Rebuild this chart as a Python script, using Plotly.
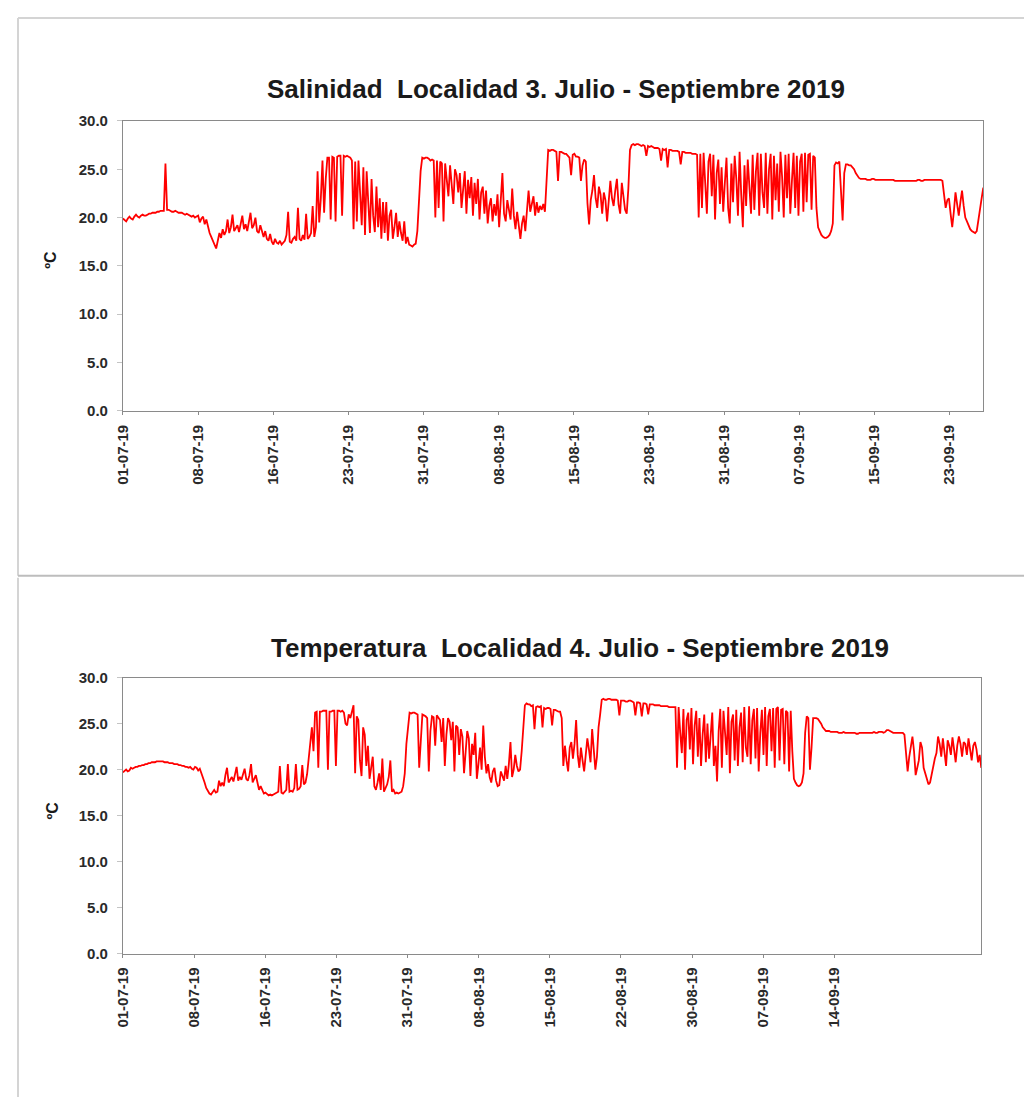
import plotly.graph_objects as go

W, H = 1032, 1097
# measured placement of the page in the screenshot: origin ~16 px, slight downscale
ORIGIN = 16.0
SX, SY = 0.992, 0.985
FONT = "Liberation Sans, Arial, sans-serif"

# ---------------- data ----------------
TITLE_1 = "Salinidad\u00a0 Localidad 3. Julio - Septiembre 2019"
TITLE_2 = "Temperatura\u00a0 Localidad 4. Julio - Septiembre 2019"
Y_TITLE = "ºC"

# category-axis labels, one label every TICK_EVERY samples (4-hourly samples)
labels_1 = ["01-07-19", "08-07-19", "16-07-19", "23-07-19", "31-07-19", "08-08-19",
            "15-08-19", "23-08-19", "31-08-19", "07-09-19", "15-09-19", "23-09-19"]
labels_2 = ["01-07-19", "08-07-19", "16-07-19", "23-07-19", "31-07-19", "08-08-19",
            "15-08-19", "22-08-19", "30-08-19", "07-09-19", "14-09-19"]
TICK_EVERY_1 = 45.94
TICK_EVERY_2 = 44.43

y_ticks = [0, 5, 10, 15, 20, 25, 30]

# series 1: Salinidad Localidad 3
salinidad_l3 = [
    # 01-07 .. 07-07
    19.9, 19.7, 19.6, 19.9, 20.1, 19.9, 19.8, 20.1, 20.3, 20.1, 20.0, 20.2, 20.3, 20.2, 20.2,
    20.3, 20.4, 20.4, 20.5, 20.5, 20.5, 20.6, 20.6, 20.7, 20.7,
    20.7, 25.6, 20.8,
    20.8, 20.7, 20.6, 20.6, 20.7, 20.6, 20.5, 20.5, 20.5, 20.4, 20.3, 20.4, 20.3, 20.2, 20.1,
    20.2, 20.0, 20.1, 20.2, 19.5, 19.9, 20.1, 19.3,
    19.8, 19.0, 18.4, 18.0, 17.6, 17.2, 16.8,
    # 09-07 .. 16-07
    17.6, 18.4, 17.9, 18.8, 18.2, 18.6, 19.8, 18.4, 19.0, 20.3, 18.6, 18.9, 19.2, 18.5, 19.4,
    20.2, 18.8, 19.3, 18.6, 19.5, 20.5, 18.9, 19.2, 20.0, 18.6, 18.4, 19.2, 18.6,
    18.0, 18.6, 17.8, 17.6, 18.3, 17.5, 17.2, 17.8, 17.4, 17.3, 17.6, 17.2,
    17.4, 17.6, 18.2, 20.6, 17.5, 17.4, 17.8, 18.0, 17.6, 21.0, 17.8, 17.6, 18.2, 17.7, 20.4,
    17.8, 18.0, 18.4, 21.2, 18.0,
    # 20-07 .. 31-07
    19.0, 24.8, 19.5, 22.0, 25.9, 20.5, 24.0, 26.2,
    26.2, 19.8, 26.3, 26.2, 19.6, 26.3, 26.4, 26.4, 20.2, 26.4, 26.3, 26.4, 26.3, 26.2, 25.9,
    18.8, 25.8, 19.6, 25.9, 22.0, 19.2, 25.2, 18.2, 24.8, 21.0, 18.4, 24.0, 20.2, 18.5, 23.2,
    19.0, 22.0, 17.8, 21.6, 18.4,
    21.6, 17.6, 20.2, 20.8, 17.8, 19.0, 20.5, 18.0, 19.6, 18.4, 17.6, 19.6, 17.3, 18.0, 17.2,
    17.1, 17.0, 17.2, 17.3, 18.6,
    22.0, 24.8, 26.2,
    26.1, 26.2, 26.2, 26.1, 25.9, 26.0, 25.9, 20.0,
    # 01-08 .. 14-08
    25.9, 21.0, 25.8, 25.6, 19.6, 25.6, 24.2, 22.2, 25.4, 23.0, 21.4, 25.0, 24.4, 22.6, 24.6,
    21.0, 23.4, 24.8, 20.4, 23.9, 22.0, 24.2, 20.2, 23.6, 21.4, 24.0, 19.8, 22.6, 23.2, 20.4,
    22.8, 19.4,
    21.2, 22.0, 19.6, 21.4, 20.2, 22.4, 19.0, 21.8, 24.6, 20.4, 19.6, 21.8, 20.8, 19.8, 23.0,
    20.2, 18.8, 20.6, 19.2, 17.8, 19.4, 20.2, 18.6, 21.0, 22.8, 20.6, 21.4, 22.2, 20.2, 21.6,
    20.5, 21.2, 20.8, 21.4, 20.6,
    24.0, 27.0,
    # 14-08 .. 22-08
    26.9, 27.0, 27.0, 26.9, 26.8, 23.8, 26.8, 26.8, 26.7, 26.6, 26.6, 26.4, 26.2, 24.4, 26.5,
    26.6, 26.3, 26.3, 26.2, 23.8, 25.4, 26.0, 25.8,
    21.5, 19.3, 21.8, 22.8, 24.4, 22.0, 21.0, 23.2, 22.4, 20.4, 22.6, 21.8, 19.6, 21.6, 23.8,
    22.0, 21.2, 22.8, 24.0, 21.4, 20.4, 23.6, 22.2, 20.8,
    20.4, 23.0, 27.0, 27.5,
    # 22-08 .. 29-08
    27.6, 27.5, 27.6, 27.6, 27.5, 27.4, 27.5, 27.4, 26.4, 27.4, 27.3, 27.4, 27.3, 27.2, 27.2,
    27.2, 27.1, 25.9, 27.1, 27.0, 27.1, 25.2, 27.0, 27.0, 26.9, 26.9, 26.9, 26.9, 26.8, 25.5,
    26.8, 26.8, 26.7, 26.7, 26.7, 26.7, 26.6, 26.6, 26.6, 26.5,
    # 29-08 .. 10-09
    20.0, 26.6, 21.0, 26.7, 23.5, 20.4, 25.8, 26.6, 22.2, 26.5,
    19.8, 24.6, 26.0, 21.4, 25.2, 20.6, 23.6, 26.2, 21.0, 19.4,
    25.6, 21.6, 26.4, 24.0, 20.2, 26.8, 22.4, 19.0, 25.4, 21.2,
    26.0, 23.0, 20.4, 26.5, 20.8, 24.8, 26.7, 20.2, 26.6, 22.6,
    21.0, 26.7, 20.4, 25.0, 26.6, 19.8, 26.4, 21.8, 25.6, 20.6,
    26.8, 24.2, 20.0, 26.5, 22.0, 26.6, 20.4, 23.8, 26.7, 21.0,
    26.4, 20.2, 25.8, 26.6, 20.6, 26.7, 21.6, 26.5, 26.6, 20.8,
    26.4, 26.2,
    21.0, 19.0, 18.5, 18.2, 18.0, 17.9, 17.9, 18.0, 18.2, 18.6, 19.4,
    25.4, 25.7, 25.6, 25.8, 22.0, 19.7, 24.6, 25.5,
    25.5, 25.4, 25.4, 25.2, 25.0, 24.6, 24.3, 24.1,
    # 13-09 .. 22-09
    24.0, 24.0, 24.0, 24.0, 23.9, 23.9, 23.9, 24.0, 24.0, 23.9,
    23.9, 23.9, 23.9, 23.9, 23.9, 23.9, 23.9, 23.9, 23.9, 23.9,
    23.9, 23.8, 23.8, 23.8, 23.8, 23.8, 23.8, 23.8, 23.8, 23.8,
    23.8, 23.8, 23.8, 23.8, 23.8, 23.9, 23.9, 23.8, 23.8, 23.9,
    23.9, 23.9, 23.9, 23.9, 23.9, 23.9, 23.9, 23.9, 23.9, 23.9,
    23.8,
    # 22-09 .. 26-09
    22.4, 21.0, 21.8, 22.0, 20.4, 19.0, 20.6, 22.6, 21.4, 20.2, 21.6, 22.8, 21.2, 20.0, 19.6,
    19.2, 18.8, 18.6, 18.5, 18.4, 18.6, 19.6, 20.8, 22.0, 23.1,
]

# series 2: Temperatura Localidad 4
temperatura_l4 = [
    19.7, 19.9, 20.0, 19.8, 19.9, 20.2, 20.1, 20.2, 20.3, 20.3,
    20.4, 20.4, 20.5, 20.5, 20.6, 20.6, 20.7, 20.7, 20.8, 20.8,
    20.8, 20.9, 20.9, 20.9, 20.9, 20.9, 20.8, 20.8, 20.8, 20.7,
    20.7, 20.7, 20.6, 20.6, 20.6, 20.5, 20.5, 20.4, 20.4, 20.3,
    20.3, 20.2, 20.3, 20.1, 20.0, 20.3, 20.2, 19.9, 20.1, 19.6,
    19.2, 18.6, 18.0, 17.6, 17.4, 17.3, 17.6, 17.8, 17.5,
    17.6, 18.8, 18.2, 18.6, 18.2, 19.4, 20.2, 18.6, 18.9, 19.2, 18.7, 19.6, 20.3, 18.8, 19.2,
    18.9, 19.5, 20.1, 19.0, 18.8, 19.4, 20.6, 18.6, 19.0,
    19.4, 18.6, 17.8, 18.2, 17.8, 17.4, 17.5, 17.3, 17.2, 17.3, 17.2,
    17.3, 17.4, 17.5, 17.6, 20.4, 17.5, 17.4, 17.6, 17.8, 20.6, 17.6, 17.7, 17.6, 18.0, 20.6,
    17.8, 17.9, 18.2, 20.5, 18.4, 18.6,
    19.5, 21.5, 23.0, 24.6, 22.0, 26.2, 26.3,
    20.2, 26.3, 26.3, 26.4, 26.4, 26.4, 20.0, 26.3, 26.3, 26.4, 26.4, 20.4, 26.4, 26.4, 26.3, 26.4,
    26.2, 25.0, 24.8, 26.0, 25.6, 26.2, 27.0, 19.6, 25.8, 25.4, 21.0, 19.3, 24.6, 23.8, 20.4, 22.6,
    19.0, 20.2, 21.4, 18.2, 17.8, 18.6, 19.6, 17.8, 21.2, 17.6, 18.0, 18.4, 19.2, 21.0, 17.6,
    17.8, 17.4, 17.5, 17.4, 17.5, 17.6,
    18.2, 19.6, 22.8, 24.8, 26.2, 26.1, 26.2,
    26.2, 26.1, 26.0, 20.2, 23.6, 26.0, 25.9, 25.8, 25.6, 19.8,
    24.2, 25.8, 25.7, 22.6, 25.9, 25.6, 25.4, 23.0, 25.6, 20.4,
    23.8, 25.6, 25.2, 23.2, 25.2, 19.8, 24.8, 24.6, 21.6, 24.4,
    23.6, 19.6, 22.4, 24.2, 23.4, 19.3, 22.8, 21.6, 24.0, 19.0,
    20.6, 22.4, 20.0, 24.8, 21.4, 19.6, 20.6,
    19.2, 18.6, 19.8, 20.2, 18.8, 18.2, 18.3, 19.8, 19.2, 18.8, 20.4, 19.0, 20.6, 23.0, 19.2,
    20.0, 21.6, 20.4, 19.8,
    20.0, 22.0, 24.6, 27.0, 27.2, 27.1,
    27.1, 26.9, 27.0, 24.4, 26.8, 26.9, 26.8, 26.9, 24.6, 26.7, 26.6, 26.7, 26.7, 26.6, 24.8,
    26.5, 26.5, 26.4, 26.3, 26.3, 25.6,
    20.4, 22.6, 21.0, 19.8, 22.4, 23.0, 21.2, 22.8, 25.4, 21.6, 20.2, 22.4, 21.0, 19.8, 21.6,
    23.4, 22.2, 20.8, 24.4, 22.0, 20.0, 21.4, 24.6,
    26.0, 27.6, 27.7, 27.6,
    27.6, 27.7, 27.7, 27.6, 27.6, 27.6, 27.6, 27.5, 25.9, 27.5,
    27.5, 27.5, 27.4, 27.4, 27.5, 27.5, 27.4, 27.3, 25.9, 27.3,
    27.3, 27.2, 25.8, 27.2, 27.2, 27.1, 26.0, 27.1, 27.1, 27.1,
    27.0, 27.0, 27.0, 27.0, 26.9, 26.9, 26.9, 26.9, 26.9, 26.8,
    26.8, 26.8, 26.8, 26.8,
    20.2, 26.8, 24.0, 21.8, 26.6, 20.0, 25.4, 26.2, 22.2, 26.7,
    20.6, 24.8, 26.4, 21.4, 25.6, 20.4, 23.8, 26.0, 20.8, 25.0,
    21.2, 24.0, 26.2, 20.4, 22.6, 18.7, 24.2, 26.6, 20.2, 26.4,
    23.4, 21.6, 26.8, 19.6, 25.2, 26.0, 21.0, 26.5, 20.4, 24.6,
    26.2, 20.8, 26.8, 22.4, 21.4, 26.9, 20.6, 25.4, 26.6, 21.2,
    26.7, 19.8, 24.0, 26.5, 21.6, 26.8, 20.4, 25.8, 26.6, 22.0,
    26.7, 20.2, 26.6, 26.8, 21.0, 26.5, 26.6, 20.6, 26.4, 26.2,
    19.8, 26.4, 22.0,
    19.0, 18.6, 18.3, 18.2, 18.3, 18.6, 19.6,
    24.0, 25.8, 25.6, 20.0, 22.4, 25.6,
    25.6, 25.6, 25.5, 25.3, 25.0, 24.6,
    24.4, 24.2, 24.2, 24.2, 24.1, 24.1, 24.1, 24.1, 24.1, 24.0,
    24.0, 24.0, 24.1, 24.0, 24.0, 24.0, 24.0, 24.0, 24.0, 24.0,
    23.9, 23.9, 24.0, 24.0, 24.0, 24.0, 24.0, 24.0, 24.0, 24.0,
    24.0, 24.1, 24.0, 24.0, 24.1, 24.1, 24.1, 24.0, 24.1, 24.3,
    24.3, 24.2, 24.1, 24.0, 24.0, 24.0, 24.0, 24.0, 24.0, 24.0,
    23.8,
    21.6, 19.8, 21.4, 22.6, 23.6, 22.0, 19.4, 20.2, 21.0, 23.0, 22.4, 20.2, 19.6, 18.8, 18.4,
    18.6, 19.6, 20.6, 21.2,
    21.8, 23.6, 22.8, 21.4, 23.4, 22.0, 20.4, 23.2, 22.6, 21.6, 23.5, 22.2, 20.8, 22.6, 23.6,
    22.8, 21.4, 23.0, 22.8, 21.6, 23.4, 22.2, 21.0, 22.6, 23.0, 22.2, 20.8, 21.6, 20.2,
]

# ---------------- figure ----------------
def px_x(p):
    return ((p - ORIGIN) / SX) / W

def px_y(p):
    return 1 - ((p - ORIGIN) / SY) / H

LINE_COLOR = "#FF0000"
AXIS_COLOR = "#8a8a8a"

fig = go.Figure()
fig.add_trace(go.Scatter(
    x=list(range(len(salinidad_l3))), y=salinidad_l3, mode="lines",
    line=dict(color=LINE_COLOR, width=1.8), xaxis="x", yaxis="y",
    hoverinfo="skip", showlegend=False))
fig.add_trace(go.Scatter(
    x=list(range(len(temperatura_l4))), y=temperatura_l4, mode="lines",
    line=dict(color=LINE_COLOR, width=1.8), xaxis="x2", yaxis="y2",
    hoverinfo="skip", showlegend=False))

tickfont = dict(family=FONT, size=15, color="#2a2a2a", weight="bold")

def xaxis(n, labels, every, domain, anchor):
    return dict(
        domain=domain, anchor=anchor, range=[0, n - 1],
        tickmode="array",
        tickvals=[i * every for i in range(len(labels))],
        ticktext=labels, tickangle=-90, tickfont=tickfont,
        showline=True, linecolor=AXIS_COLOR, linewidth=1, mirror=True,
        ticks="outside", ticklen=3, tickcolor=AXIS_COLOR,
        ticklabelstandoff=4,
        showgrid=False, zeroline=False,
    )

def yaxis(domain, anchor):
    return dict(
        domain=domain, anchor=anchor, range=[0, 30],
        tickmode="array", tickvals=y_ticks,
        tickformat=".1f", tickfont=tickfont,
        showline=True, linecolor=AXIS_COLOR, linewidth=1, mirror=True,
        ticks="outside", ticklen=5, tickcolor="#c4c4c4",
        ticklabelstandoff=6,
        showgrid=False, zeroline=False,
    )

fig.update_layout(
    width=W, height=H, autosize=False,
    margin=dict(l=0, r=0, t=0, b=0),
    paper_bgcolor="white", plot_bgcolor="white",
    xaxis=xaxis(len(salinidad_l3), labels_1, TICK_EVERY_1, [px_x(122), px_x(983)], "y"),
    yaxis=yaxis([px_y(410), px_y(120)], "x"),
    xaxis2=xaxis(len(temperatura_l4), labels_2, TICK_EVERY_2, [px_x(122), px_x(981)], "y2"),
    yaxis2=yaxis([px_y(953), px_y(677)], "x2"),
)

title_font = dict(family=FONT, size=26, color="#1a1a1a", weight="bold")
ytitle_font = dict(family=FONT, size=16, color="#1a1a1a", weight="bold")

fig.add_annotation(text=TITLE_1, x=px_x(555), y=px_y(88), xref="paper", yref="paper",
                   showarrow=False, font=title_font, xanchor="center", yanchor="middle")
fig.add_annotation(text=TITLE_2, x=px_x(579), y=px_y(647), xref="paper", yref="paper",
                   showarrow=False, font=title_font, xanchor="center", yanchor="middle")
fig.add_annotation(text=Y_TITLE, x=px_x(50), y=px_y(259), xref="paper", yref="paper",
                   showarrow=False, font=ytitle_font, textangle=-90,
                   xanchor="center", yanchor="middle")
fig.add_annotation(text=Y_TITLE, x=px_x(52), y=px_y(810), xref="paper", yref="paper",
                   showarrow=False, font=ytitle_font, textangle=-90,
                   xanchor="center", yanchor="middle")

# panel frames (as in the pasted chart objects)
frame = dict(xref="paper", yref="paper", type="line")
top_edge = 1 - 1 / H
left_edge = 1 / W
fig.add_shape(**frame, x0=left_edge, x1=1, y0=top_edge, y1=top_edge,
              line=dict(color="#d4d4d4", width=2))
fig.add_shape(**frame, x0=left_edge, x1=left_edge, y0=top_edge, y1=px_y(575),
              line=dict(color="#d4d4d4", width=2))
fig.add_shape(**frame, x0=left_edge, x1=1, y0=px_y(575), y1=px_y(575),
              line=dict(color="#bdbdbd", width=2))
fig.add_shape(**frame, x0=left_edge, x1=left_edge, y0=px_y(577), y1=0,
              line=dict(color="#d4d4d4", width=2))

fig.write_html("out.html")
